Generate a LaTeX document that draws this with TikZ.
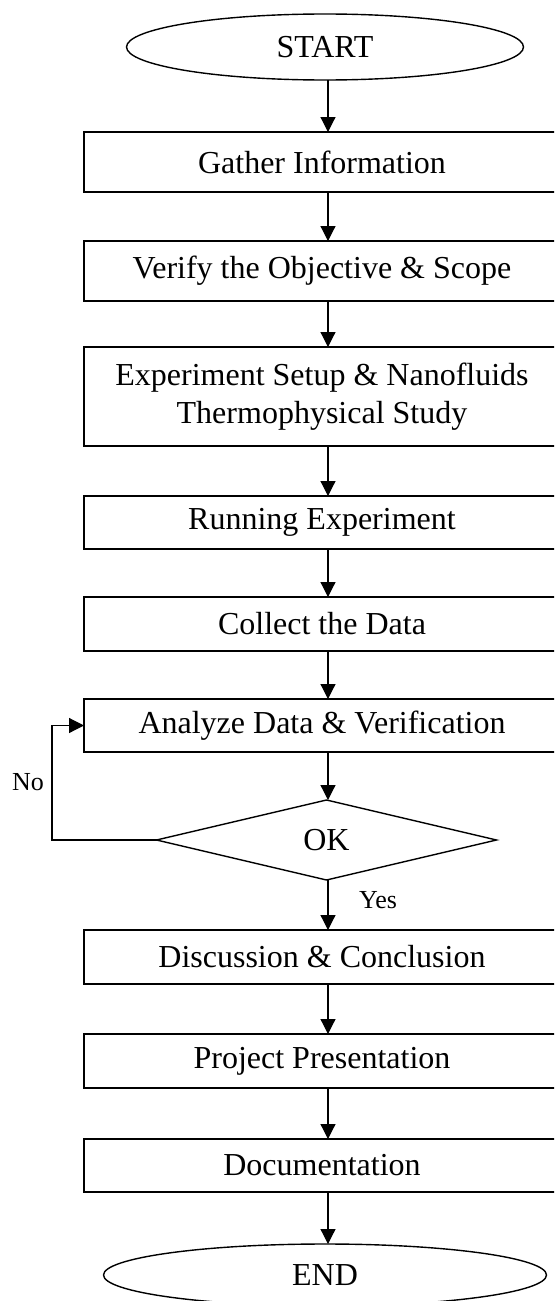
\documentclass[tikz,border=0pt]{standalone}
\usepackage{fontspec}
\setmainfont{Liberation Serif}
\usetikzlibrary{shapes.geometric,arrows.meta}
\begin{document}
\begin{tikzpicture}[x=0.5pt,y=-0.5pt,
  box/.style={draw, line width=0.8pt, rectangle, minimum width=238pt, inner sep=0pt, outer sep=0pt, font=\fontsize{16}{19}\selectfont, align=center},
  term/.style={draw, line width=0.7pt, ellipse, inner sep=0pt, outer sep=0pt, font=\fontsize{16}{19}\selectfont},
  dec/.style={draw, line width=0.7pt, diamond, inner sep=0pt, outer sep=0pt, minimum width=170pt, minimum height=40pt, font=\fontsize{16}{19}\selectfont},
  arr/.style={line width=0.6pt, -{Triangle[width=7.5pt,length=7.5pt]}},
  lbl/.style={font=\fontsize{13}{15}\selectfont, inner sep=0pt}]
\useasboundingbox (0,0) rectangle (554,1301);
\clip (0,0) rectangle (554,1301);
\coordinate (ax) at (328,0);
\coordinate (nx) at (52,0);

\node[term, minimum width=198.5pt, minimum height=33pt] (start) at (325,47) {START};
\node[box, minimum height=30pt] (gather) at (322,162) {Gather Information};
\node[box, minimum height=30pt] (verify) at (322,271) {Verify the Objective \& Scope};
\node[box, minimum height=49.5pt] (exp) at (322,396.5) {Experiment Setup \& Nanofluids\\Thermophysical Study};
\node[box, minimum height=26.5pt] (run) at (322,522.5) {Running Experiment};
\node[box, minimum height=27pt] (collect) at (322,624) {Collect the Data};
\node[box, minimum height=26.5pt] (analyze) at (322,725.5) {Analyze Data \& Verification};
\node[dec] (ok) at (326.5,840) {OK};
\node[box, minimum height=27pt] (disc) at (322,957) {Discussion \& Conclusion};
\node[box, minimum height=27pt] (proj) at (322,1061) {Project Presentation};
\node[box, minimum height=26.5pt] (doc) at (322,1165.5) {Documentation};
\node[term, minimum width=221.5pt, minimum height=31pt] (end) at (325,1275) {END};

\node[lbl] (no) at (28,782) {No};
\node[lbl] (yes) at (378,900) {Yes};

\draw[arr] (start.south -| ax) -- (gather.north -| ax);
\draw[arr] (gather.south -| ax) -- (verify.north -| ax);
\draw[arr] (verify.south -| ax) -- (exp.north -| ax);
\draw[arr] (exp.south -| ax) -- (run.north -| ax);
\draw[arr] (run.south -| ax) -- (collect.north -| ax);
\draw[arr] (collect.south -| ax) -- (analyze.north -| ax);
\draw[arr] (analyze.south -| ax) -- (ok.north -| ax);
\draw[arr] (ok.south -| ax) -- (disc.north -| ax);
\draw[arr] (disc.south -| ax) -- (proj.north -| ax);
\draw[arr] (proj.south -| ax) -- (doc.north -| ax);
\draw[arr] (doc.south -| ax) -- (end.north -| ax);
\draw[arr] (ok.west) -- (ok.west -| nx) |- (analyze.west);
\end{tikzpicture}
\end{document}
